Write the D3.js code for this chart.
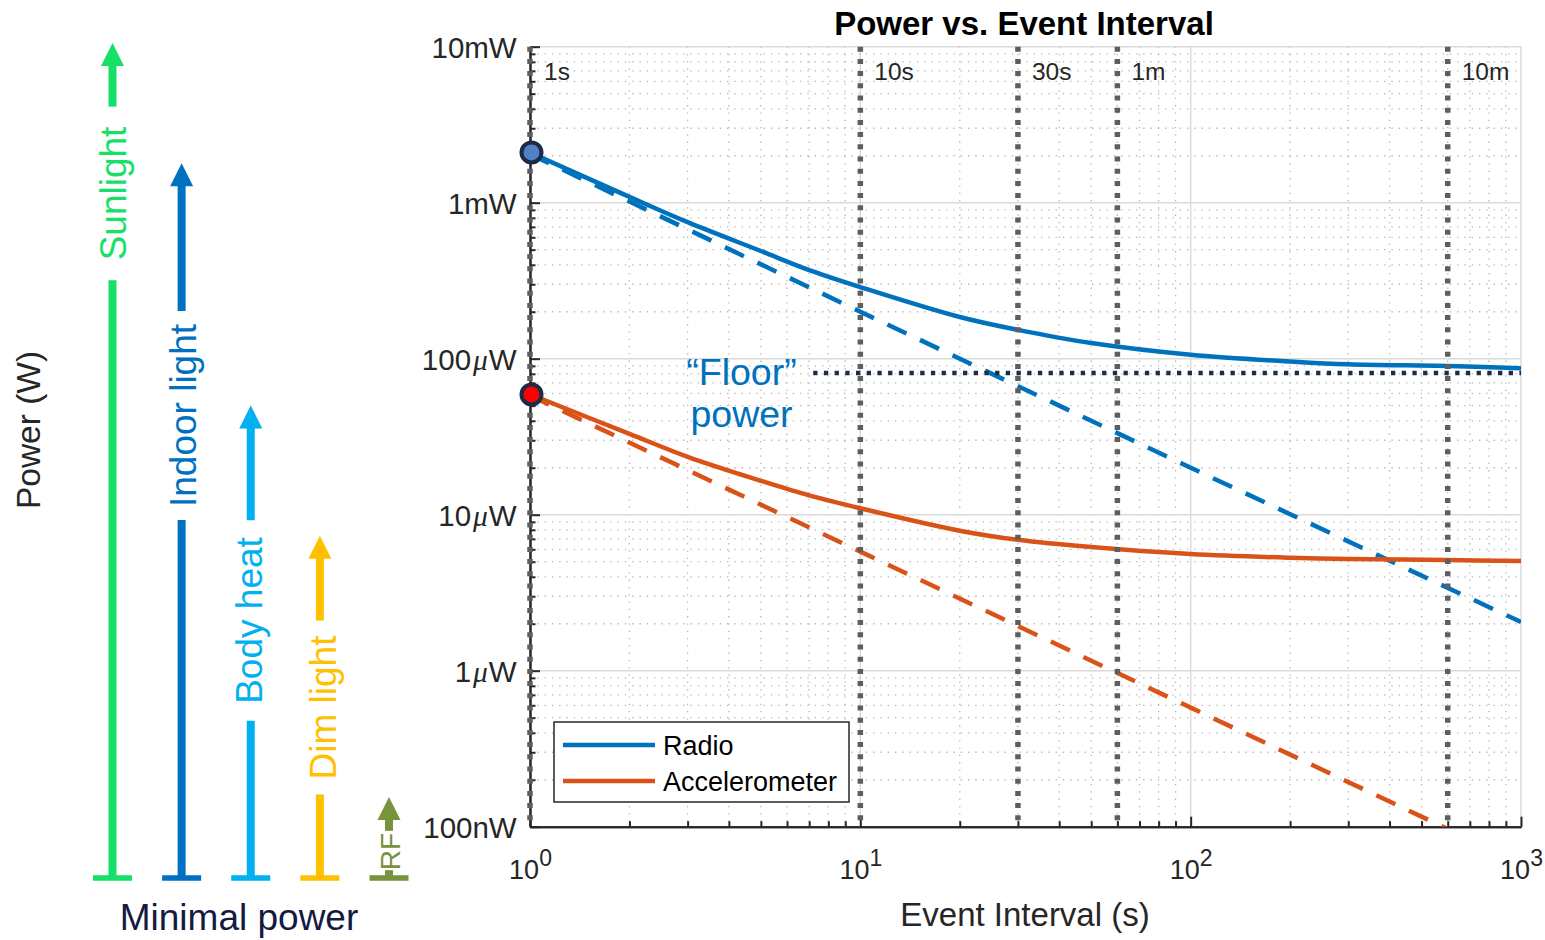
<!DOCTYPE html>
<html>
<head>
<meta charset="utf-8">
<script src="https://cdn.jsdelivr.net/npm/d3@7"></script>
<style>
  body { margin: 0; background: #fff; }
  svg { display: block; }
  text { font-family: "Liberation Sans", Arial, Helvetica, sans-serif; }
</style>
</head>
<body>
<svg id="chart" width="1545" height="940"></svg>
<script>
// ---------- data ----------
// Event interval (s) sampled along the total-power curves
const intervals = [1, 2, 3, 5, 7, 10, 20, 30, 50, 100, 200, 300, 600, 1000];
// Average power (W) including the constant floor
const radioTotal = [2.1e-3, 1.09e-3, 0.75e-3, 0.49e-3, 0.37e-3, 0.288e-3, 0.185e-3, 0.153e-3,
                    0.126e-3, 0.106e-3, 0.096e-3, 0.092e-3, 0.0898e-3, 0.087e-3];
const accelTotal = [59e-6, 33e-6, 23.5e-6, 16.5e-6, 13.3e-6, 11.0e-6, 7.9e-6, 6.9e-6,
                    6.2e-6, 5.6e-6, 5.3e-6, 5.2e-6, 5.12e-6, 5.05e-6];
// Active (per-event) power only, no floor
const activeIntervals = [1, 10, 100, 1000];
const radioActive = [2.05e-3, 2.0e-4, 2.0e-5, 2.05e-6];
const accelActive = [58e-6, 5.8e-6, 0.58e-6, 0.058e-6];
// Per-event power at a 1 s interval
const startPower = [2.1e-3, 59e-6];
// Radio floor power
const floorInterval = [7.2, 1000];
const floorPower = 81e-6;
// Reference intervals
const markerIntervals = [1, 10, 30, 60, 600];
const markerLabels = ["1s", "10s", "30s", "1m", "10m"];
// Axis ticks
const yTicks = [1e-7, 1e-6, 1e-5, 1e-4, 1e-3, 1e-2];
const yTickLabels = ["100nW", "1μW", "10μW", "100μW", "1mW", "10mW"];
const xTicks = [1, 10, 100, 1000];
const xTickExponents = ["0", "1", "2", "3"];
// Harvesting sources (relative minimal power level, arbitrary units 0-100)
const sourceNames = ["Sunlight", "Indoor light", "Body heat", "Dim light", "RF"];
const sourceLevels = [100, 85.6, 56.6, 41.0, 9.7];
const seriesNames = ["Radio", "Accelerometer"];

// ---------- styles ----------
const ink = "#262626";
const seriesColors = ["#0072BD", "#D95319"];
const startFill = ["#4f81c4", "#ff0000"];
const sourceColors = ["#16e068", "#0070c0", "#00b0f0", "#ffc000", "#77933c"];

// ---------- layout ----------
const svg = d3.select("#chart");
const plot = { left: 530, right: 1521, top: 46.7, bottom: 826.7 };
const x = d3.scaleLog().domain([1, 1000]).range([plot.left, plot.right]);
const y = d3.scaleLog().domain([1e-7, 1e-2]).range([plot.bottom, plot.top]);

svg.append("defs").append("clipPath").attr("id", "plotClip")
  .append("rect")
  .attr("x", plot.left).attr("y", plot.top)
  .attr("width", plot.right - plot.left).attr("height", plot.bottom - plot.top);

// ---------- grid ----------
const isMajor = v => Math.abs(Math.log10(v) - Math.round(Math.log10(v))) < 1e-6;
const xAll = x.ticks(), yAll = y.ticks();
const grid = svg.append("g");

grid.selectAll(".xminor").data(xAll.filter(v => !isMajor(v))).join("line")
  .attr("x1", d => x(d)).attr("x2", d => x(d))
  .attr("y1", plot.top).attr("y2", plot.bottom)
  .attr("stroke", "#b5b5b5").attr("stroke-width", 1.3).attr("stroke-dasharray", "1.3,6");
grid.selectAll(".yminor").data(yAll.filter(v => !isMajor(v))).join("line")
  .attr("y1", d => y(d)).attr("y2", d => y(d))
  .attr("x1", plot.left).attr("x2", plot.right)
  .attr("stroke", "#b5b5b5").attr("stroke-width", 1.3).attr("stroke-dasharray", "1.3,6");
grid.selectAll(".xmajor").data(xAll.filter(isMajor)).join("line")
  .attr("x1", d => x(d)).attr("x2", d => x(d))
  .attr("y1", plot.top).attr("y2", plot.bottom)
  .attr("stroke", "#dadada").attr("stroke-width", 1.5);
grid.selectAll(".ymajor").data(yAll.filter(isMajor)).join("line")
  .attr("y1", d => y(d)).attr("y2", d => y(d))
  .attr("x1", plot.left).attr("x2", plot.right)
  .attr("stroke", "#dadada").attr("stroke-width", 1.5);

// ---------- axes ----------
const yMinorAxis = d3.axisLeft(y).tickValues(yAll.filter(v => !isMajor(v)))
  .tickSizeInner(-5.5).tickSizeOuter(0).tickFormat("");
const xMinorAxis = d3.axisBottom(x).tickValues(xAll.filter(v => !isMajor(v)))
  .tickSizeInner(-5.5).tickSizeOuter(0).tickFormat("");
svg.append("g").attr("transform", `translate(${plot.left},0)`).call(yMinorAxis);
svg.append("g").attr("transform", `translate(0,${plot.bottom})`).call(xMinorAxis);

const yAxisG = svg.append("g").attr("transform", `translate(${plot.left},0)`)
  .call(d3.axisLeft(y).tickValues(yTicks).tickSizeInner(-10).tickSizeOuter(0).tickPadding(13.3)
        .tickFormat((d, i) => yTickLabels[i]));
const xAxisG = svg.append("g").attr("transform", `translate(0,${plot.bottom})`)
  .call(d3.axisBottom(x).tickValues(xTicks).tickSizeInner(-10).tickSizeOuter(0)
        .tickFormat(() => "10"));

svg.selectAll(".domain, .tick line").attr("stroke", ink).attr("stroke-width", 2);

yAxisG.selectAll(".tick text").each(function (d, i) {
  const t = d3.select(this);
  const label = yTickLabels[i];
  t.text(null).attr("fill", ink).attr("font-size", 29.5)
    .attr("font-family", "'Liberation Sans', Arial, sans-serif").attr("dy", "0.35em");
  const parts = label.split("μ");
  if (parts.length === 2) {
    t.append("tspan").text(parts[0]);
    t.append("tspan").text("μ").attr("font-style", "italic")
      .attr("font-family", "'Liberation Serif', 'DejaVu Serif', serif").attr("dx", 2);
    t.append("tspan").text(parts[1]).attr("dx", 1);
  } else {
    t.text(label);
  }
});

xAxisG.selectAll(".tick text").each(function (d, i) {
  const t = d3.select(this);
  t.text(null).attr("fill", ink).attr("y", 52).attr("dy", 0)
    .attr("font-family", "'Liberation Sans', Arial, sans-serif");
  t.append("tspan").text("10").attr("font-size", 27);
  t.append("tspan").text(xTickExponents[i]).attr("font-size", 23).attr("dy", -13);
});

// ---------- curves ----------
const curves = svg.append("g").attr("clip-path", "url(#plotClip)");
const smooth = d3.line().x(d => x(d[0])).y(d => y(d[1])).curve(d3.curveCatmullRom.alpha(0.5));
const straight = d3.line().x(d => x(d[0])).y(d => y(d[1]));

[radioActive, accelActive].forEach((vals, k) => {
  curves.append("path")
    .attr("d", straight(activeIntervals.map((t, i) => [t, vals[i]])))
    .attr("fill", "none").attr("stroke", seriesColors[k])
    .attr("stroke-width", 4.5).attr("stroke-dasharray", "21,15");
});
[radioTotal, accelTotal].forEach((vals, k) => {
  curves.append("path")
    .attr("d", smooth(intervals.map((t, i) => [t, vals[i]])))
    .attr("fill", "none").attr("stroke", seriesColors[k]).attr("stroke-width", 4.5);
});

// floor power
svg.append("line")
  .attr("x1", x(floorInterval[0])).attr("x2", x(floorInterval[1]))
  .attr("y1", y(floorPower)).attr("y2", y(floorPower))
  .attr("stroke", "#1c2d4a").attr("stroke-width", 4.5).attr("stroke-dasharray", "4.3,6.4");

// reference interval markers
const markers = svg.append("g");
markers.selectAll("line").data(markerIntervals).join("line")
  .attr("x1", d => x(d)).attr("x2", d => x(d))
  .attr("y1", plot.top).attr("y2", plot.bottom)
  .attr("stroke", "#5e5e5e").attr("stroke-width", 5.5).attr("stroke-dasharray", "5,7.2");
markers.selectAll("text").data(markerIntervals).join("text")
  .attr("x", d => x(d) + 14).attr("y", 80)
  .attr("font-size", 24.5).attr("fill", ink)
  .text((d, i) => markerLabels[i]);

// starting points at 1 s
svg.selectAll(".start").data(startPower).join("circle")
  .attr("cx", x(1) + 1.5).attr("cy", d => y(d)).attr("r", 10)
  .attr("fill", (d, i) => startFill[i]).attr("stroke", "#1b2b48").attr("stroke-width", 4);

// floor annotation
const floorText = svg.append("text").attr("fill", "#0072BD").attr("font-size", 37.5)
  .attr("text-anchor", "middle");
floorText.append("tspan").attr("x", 741.5).attr("y", 385).text("“Floor”");
floorText.append("tspan").attr("x", 741.5).attr("y", 427).text("power");

// ---------- legend ----------
const legend = svg.append("g");
legend.append("rect").attr("x", 554).attr("y", 722).attr("width", 295).attr("height", 80)
  .attr("fill", "#fff").attr("stroke", ink).attr("stroke-width", 1.5);
seriesNames.forEach((name, k) => {
  const ly = 745 + k * 36;
  legend.append("line").attr("x1", 563).attr("x2", 655).attr("y1", ly).attr("y2", ly)
    .attr("stroke", seriesColors[k]).attr("stroke-width", 4.5);
  legend.append("text").attr("x", 663).attr("y", ly + 10).attr("font-size", 27)
    .attr("fill", "#000").text(name);
});

// ---------- titles ----------
svg.append("text").attr("x", 1024).attr("y", 35).attr("text-anchor", "middle")
  .attr("font-size", 33).attr("font-weight", "bold").attr("fill", "#000")
  .text("Power vs. Event Interval");
svg.append("text").attr("x", 1025).attr("y", 926).attr("text-anchor", "middle")
  .attr("font-size", 33).attr("fill", ink).text("Event Interval (s)");

// ---------- harvesting sources panel ----------
const col = d3.scalePoint().domain(sourceNames).range([112.5, 389]);
const level = d3.scaleLinear().domain([0, 100]).range([878, 43]);
const head = 23, shaftW = 8, capW = 39;
const labelMid = [193.5, 415.5, 620.5, 707.5, 851.5];
const labelPad = [20, 13, 17, 15, 2];
const labelSize = [37, 37, 37, 37, 28];
const baselineOffset = [13.5, 14.3, 11.2, 16, 11];

const panel = svg.append("g");
sourceNames.forEach((name, i) => {
  const cx = col(name);
  const top = level(sourceLevels[i]);
  const base = level(0);
  const color = sourceColors[i];
  const lab = panel.append("text")
    .attr("transform", `translate(${cx + baselineOffset[i]},${labelMid[i]}) rotate(-90)`)
    .attr("text-anchor", "middle").attr("font-size", labelSize[i]).attr("fill", color)
    .text(name);
  const half = lab.node().getComputedTextLength() / 2;
  const gapTop = labelMid[i] - half - labelPad[i];
  const gapBot = labelMid[i] + half + labelPad[i] * (i === 4 ? 0 : 1);
  panel.append("line").attr("x1", cx).attr("x2", cx)
    .attr("y1", top + head - 1).attr("y2", gapTop)
    .attr("stroke", color).attr("stroke-width", shaftW);
  panel.append("line").attr("x1", cx).attr("x2", cx)
    .attr("y1", gapBot).attr("y2", base)
    .attr("stroke", color).attr("stroke-width", shaftW);
  panel.append("path")
    .attr("d", `M${cx},${top} L${cx + head / 2},${top + head} L${cx - head / 2},${top + head} Z`)
    .attr("fill", color);
  panel.append("rect").attr("x", cx - capW / 2).attr("y", base - 2.75)
    .attr("width", capW).attr("height", 5.5).attr("fill", color);
});

svg.append("text").attr("transform", "translate(40,430) rotate(-90)")
  .attr("text-anchor", "middle").attr("font-size", 33.5).attr("fill", ink).text("Power (W)");
svg.append("text").attr("x", 239).attr("y", 930).attr("text-anchor", "middle")
  .attr("font-size", 37).attr("fill", "#141a40").text("Minimal power");
</script>
</body>
</html>
